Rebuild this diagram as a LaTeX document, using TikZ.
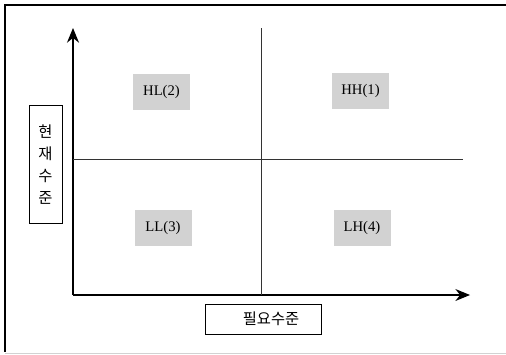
\documentclass[tikz,border=0pt]{standalone}
\usepackage{fontspec}
\setmainfont{Liberation Serif}
\newfontfamily\kor{Noto Sans CJK KR}
\usetikzlibrary{positioning}
\usetikzlibrary{arrows.meta}

\begin{document}
\begin{tikzpicture}[
    x=0.75pt, y=-0.75pt,
    line width=0.75pt,
    font=\fontsize{11}{13}\selectfont
]
\tikzset{
    quadnode/.style = {fill=gray!35, minimum width=42.75pt, minimum height=27pt, inner sep=0pt},
    axisbox/.style = {draw=black, fill=white, inner sep=0pt, font=\kor\fontsize{11.5}{16.5}\selectfont},
    axisline/.style = {-{Stealth[length=11pt,width=9pt]}, line width=0.9pt},
    divline/.style = {draw=black!80}
}
\useasboundingbox (0,0) rectangle (506,354);
% outer frame
\draw[line width=1.5pt] (506,5) -- (5,5) -- (5,352);
\draw[gray!35] (5,353) -- (506,353);
% axes
\coordinate (o) at (73,295);
\coordinate (ytop) at (73,28);
\coordinate (xend) at (470,295);
\draw[axisline] (o) -- (ytop);
\draw[axisline] (o) -- (xend);
% quadrant lines
\coordinate (vtop) at (261,28);
\coordinate (vbot) at (261,295);
\coordinate (hleft) at (73,159);
\coordinate (hright) at (463,159);
\draw[divline] (vtop) -- (vbot);
\draw[divline] (hleft) -- (hright);
% quadrants
\node[quadnode] at (161.5,92) (hl) {HL(2)};
\node[quadnode] at (360.5,91) (hh) {HH(1)};
\node[quadnode] at (163,228) (ll) {LL(3)};
\node[quadnode] at (362,228) (lh) {LH(4)};
% axis labels
\node[axisbox, minimum width=24.75pt, minimum height=89pt, align=center] at (45.5,164.5) (cur) {현\\재\\수\\준};
\node[axisbox, minimum width=87pt, minimum height=22.5pt] at (263,319) (need) {\hspace*{12pt}필요수준};
\end{tikzpicture}
\end{document}
